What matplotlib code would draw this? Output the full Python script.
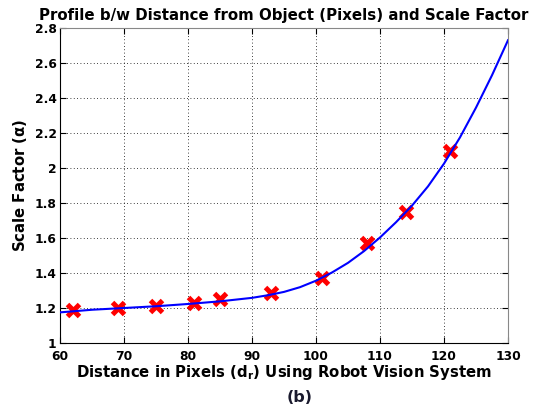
import numpy as np
import matplotlib
matplotlib.use("Agg")
import matplotlib.pyplot as plt

############################
# Data
############################

# measured points (red crosses)
dist_px = [62, 69, 75, 81, 85, 93, 101, 108, 114, 121]
scale_factor = [1.19, 1.20, 1.21, 1.23, 1.25, 1.284, 1.374, 1.572, 1.746, 2.10]

# fitted profile (blue line)
curve_x = [60, 65, 70, 75, 80, 85, 90, 92.5, 95, 97.5, 100, 102.5, 105, 107.5,
           110, 112.5, 115, 117.5, 120, 122.5, 125, 127.5, 130]
curve_y = [1.175, 1.19, 1.20, 1.21, 1.223, 1.238, 1.258, 1.273, 1.292, 1.319,
           1.356, 1.403, 1.458, 1.525, 1.603, 1.69, 1.785, 1.895, 2.025, 2.175,
           2.345, 2.53, 2.73]

x_ticks = [60, 70, 80, 90, 100, 110, 120, 130]
y_ticks = [1, 1.2, 1.4, 1.6, 1.8, 2, 2.2, 2.4, 2.6, 2.8]
y_tick_labels = ["1", "1.2", "1.4", "1.6", "1.8", "2", "2.2", "2.4", "2.6", "2.8"]

############################
# Style
############################

plt.rcParams.update({
    "font.family": ["DejaVu Sans"],
    "font.weight": "bold",
    "mathtext.fontset": "custom",
    "mathtext.rm": "DejaVu Sans:bold",
    "mathtext.it": "DejaVu Sans:bold",
    "xtick.direction": "in",
    "ytick.direction": "in",
})

fig = plt.figure(figsize=(5.44, 4.16), dpi=100)
ax = fig.add_axes([60 / 544, 1 - 343 / 416, 448 / 544, 315 / 416])

ax.plot(curve_x, curve_y, color="#0000ff", linewidth=1.5, zorder=3)
ax.plot(dist_px, scale_factor, linestyle="none", marker="x",
        color="#ff0000", markersize=8, markeredgewidth=3.6, zorder=2)

ax.set_xlim(60, 130)
ax.set_ylim(1, 2.8)
ax.set_xticks(x_ticks)
ax.set_yticks(y_ticks)
ax.set_yticklabels(y_tick_labels)
ax.tick_params(top=True, right=True, length=4, width=0.8, labelsize=8.8)
ax.tick_params(axis="x", pad=5)
ax.tick_params(axis="y", pad=2.5)
for lbl in ax.get_xticklabels() + ax.get_yticklabels():
    lbl.set_fontweight("bold")

ax.grid(True, color="black", linestyle=(0, (1, 3)), linewidth=0.6)
for s in ax.spines.values():
    s.set_linewidth(0.8)
ax.spines["top"].set_color("#888888")
ax.spines["right"].set_color("#888888")

ax.set_title("Profile b/w Distance from Object (Pixels) and Scale Factor",
             fontsize=10.8, fontweight="bold", pad=6)
ax.set_xlabel(r"Distance in Pixels (d$_\mathrm{r}$) Using Robot Vision System",
              fontsize=10.7, fontweight="bold", labelpad=0)
ax.set_ylabel(r"Scale Factor ($\alpha$)", fontsize=10.7, fontweight="bold",
              labelpad=4)

fig.text(300 / 544, 1 - 397 / 416, "(b)", ha="center", va="center",
         fontsize=11.5, fontweight="bold", color="#1a1a2e")

fig.savefig("out.png", dpi=100)
